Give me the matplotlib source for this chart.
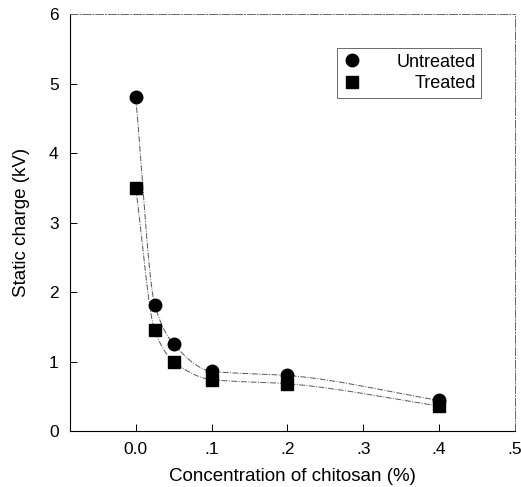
import matplotlib
matplotlib.use("Agg")
import matplotlib.pyplot as plt
import numpy as np

plt.rcParams["font.family"] = ["Liberation Sans", "DejaVu Sans"]

concentration = [0.0, 0.025, 0.05, 0.1, 0.2, 0.4]
untreated = [4.80, 1.82, 1.25, 0.86, 0.80, 0.44]
treated = [3.50, 1.45, 1.00, 0.74, 0.68, 0.36]

x_ticks = [0.0, 0.1, 0.2, 0.3, 0.4, 0.5]
x_tick_labels = ["0.0", ".1", ".2", ".3", ".4", ".5"]
y_ticks = [0, 1, 2, 3, 4, 5, 6]


def pchip(x, y, xs):
    # monotone cubic curve through the measured points (line drawing only)
    x = np.asarray(x, float)
    y = np.asarray(y, float)
    h = np.diff(x)
    d = np.diff(y) / h
    m = np.zeros_like(y)
    for k in range(1, len(x) - 1):
        if d[k - 1] * d[k] > 0:
            w1 = 2 * h[k] + h[k - 1]
            w2 = h[k] + 2 * h[k - 1]
            m[k] = (w1 + w2) / (w1 / d[k - 1] + w2 / d[k])
    m[0] = d[0]
    m[-1] = d[-1]
    out = np.empty_like(xs)
    for i, xv in enumerate(xs):
        k = min(np.searchsorted(x, xv, side="right") - 1, len(x) - 2)
        t = (xv - x[k]) / h[k]
        h00 = 2 * t**3 - 3 * t**2 + 1
        h10 = t**3 - 2 * t**2 + t
        h01 = -2 * t**3 + 3 * t**2
        h11 = t**3 - t**2
        out[i] = h00 * y[k] + h10 * h[k] * m[k] + h01 * y[k + 1] + h11 * h[k] * m[k + 1]
    return out


fig = plt.figure(figsize=(5.21, 4.87), dpi=100)
ax = fig.add_axes([0.134, 0.115, 0.854, 0.856])

xs = np.linspace(concentration[0], concentration[-1], 400)
line_style = dict(color="#555555", lw=0.7, ls=(0, (6, 1.5, 1, 1.5)))
ax.plot(xs, pchip(concentration, untreated, xs), **line_style)
ax.plot(xs, pchip(concentration, treated, xs), **line_style)
ax.plot(concentration, untreated, "o", color="black", ms=9, label="Untreated")
ax.plot(concentration, treated, "s", color="black", ms=8, label="Treated")

ax.set_xlim(-0.087, 0.5)
ax.set_ylim(0, 6)
ax.set_xticks(x_ticks)
ax.set_xticklabels(x_tick_labels)
ax.set_yticks(y_ticks)
ax.tick_params(direction="in", length=5, width=0.7, labelsize=12.5, pad=8)
ax.tick_params(top=False, right=False)

for side in ["left", "bottom"]:
    ax.spines[side].set_linewidth(0.8)
for side in ["top", "right"]:
    ax.spines[side].set_linewidth(0.7)
    ax.spines[side].set_color("#666666")
    ax.spines[side].set_linestyle((0, (8, 2, 1, 2)))

ax.set_xlabel("Concentration of chitosan (%)", fontsize=13.5, labelpad=8)
ax.set_ylabel("Static charge (kV)", fontsize=13.5, labelpad=14)

leg = ax.legend(loc="upper right", bbox_to_anchor=(0.945, 0.94), fontsize=13,
                frameon=True, fancybox=False, edgecolor="#444444",
                handlelength=1.0, handletextpad=2.0, borderpad=0.3, labelspacing=0.25)
leg.get_frame().set_linewidth(0.7)

# right-align the legend labels like the original
renderer = fig.canvas.get_renderer()
texts = leg.get_texts()
widths = [t.get_window_extent(renderer).width for t in texts]
rows = leg._legend_handle_box.get_children()[0].get_children()
for row, w in zip(rows, widths):
    row.sep += (max(widths) - w) * 72.0 / fig.dpi

fig.savefig("out.png", dpi=100)
